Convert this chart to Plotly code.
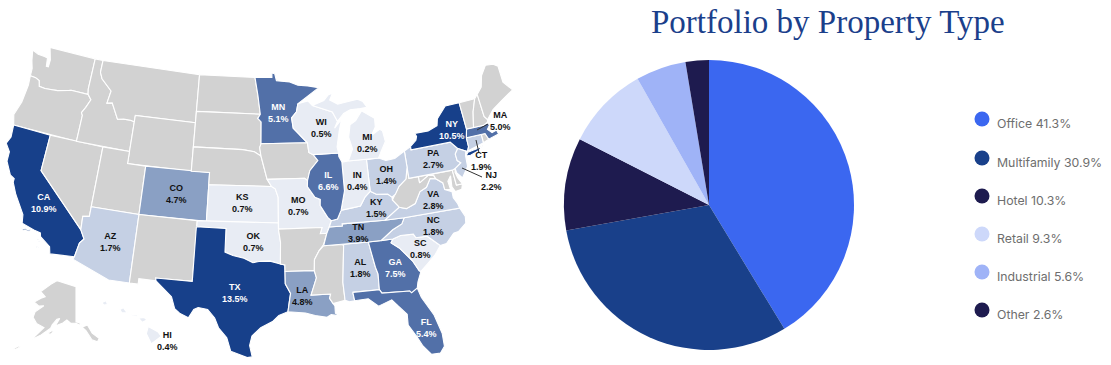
import math
import plotly.graph_objects as go

# ---------- data ----------
property_types = ["Office", "Multifamily", "Hotel", "Retail", "Industrial", "Other"]
property_shares = [41.3, 30.9, 10.3, 9.3, 5.6, 2.6]
property_colors = ["#3B67F0", "#19408A", "#1E1B4F", "#CDD8FA", "#9FB3F7", "#1E1B4F"]

state_codes = ["CA", "TX", "NY", "IL", "GA", "FL", "MN", "MA", "LA", "CO", "TN", "VA", "PA", "NJ", "CT",
               "NC", "AL", "AZ", "KY", "OH", "SC", "KS", "MO", "OK", "WI", "IN", "HI", "MI"]
state_shares = [10.9, 13.5, 10.5, 6.6, 7.5, 5.4, 5.1, 5.0, 4.8, 4.7, 3.9, 2.8, 2.7, 2.2, 1.9,
                1.8, 1.8, 1.7, 1.5, 1.4, 0.8, 0.7, 0.7, 0.7, 0.5, 0.4, 0.4, 0.2]

# State outlines, (longitude, latitude)
CONUS = {
 "WA": [[(-124.7,48.38),(-123.9,48.17),(-123.1,48.15),(-122.7,48.1),(-122.55,47.4),(-122.3,47.4),(-122.3,48.0),(-122.5,48.5),(-122.76,49),(-117.03,49),(-117.04,46.42),(-116.92,45.99),(-118.98,46),(-119.3,45.93),(-120.5,45.7),(-121.2,45.65),(-122.0,45.6),(-122.7,45.65),(-122.9,46.1),(-123.4,46.25),(-124.05,46.27),(-124.1,46.9),(-124.4,47.5)]],
 "OR": [[(-124.05,46.27),(-123.4,46.25),(-122.9,46.1),(-122.7,45.65),(-122,45.6),(-121.2,45.65),(-120.5,45.7),(-119.3,45.93),(-118.98,46),(-116.92,45.99),(-116.46,45.6),(-116.85,44.9),(-117.2,44.4),(-117.03,44.2),(-117.03,42),(-124.21,42),(-124.55,42.84),(-124.1,44),(-123.95,45.5)]],
 "CA": [[(-124.21,42),(-120,42),(-120,39),(-114.63,35),(-114.13,34.3),(-114.5,33.9),(-114.72,32.72),(-117.12,32.53),(-117.3,33.1),(-118.4,33.75),(-118.5,34.03),(-119.2,34.15),(-120.5,34.45),(-120.65,35.15),(-121.9,36.6),(-122.5,37.5),(-122.5,37.8),(-123,38),(-123.75,39),(-123.8,39.8),(-124.4,40.4),(-124.1,41)],
        [(-120.4,34.05),(-119.5,34.07),(-119.6,33.95),(-120.3,33.92)],[(-118.6,33.45),(-118.35,33.4),(-118.45,33.3)],[(-118.6,33.0),(-118.35,32.8),(-118.5,32.8)]],
 "NV": [[(-120,42),(-114.04,42),(-114.04,36.2),(-114.7,36.1),(-114.63,35),(-120,39)]],
 "ID": [[(-117.03,49),(-116.05,49),(-116.05,48),(-115.7,47.5),(-114.9,47),(-114.35,46.65),(-114.55,45.6),(-113.95,45.7),(-113.45,45.05),(-113,44.45),(-112.3,44.55),(-111.5,44.55),(-111.05,44.48),(-111.05,42),(-117.03,42),(-117.03,44.2),(-117.2,44.4),(-116.85,44.9),(-116.46,45.6),(-116.92,45.99),(-117.04,46.42)]],
 "MT": [[(-116.05,49),(-104.05,49),(-104.05,45),(-111.05,45),(-111.05,44.48),(-111.5,44.55),(-112.3,44.55),(-113,44.45),(-113.45,45.05),(-113.95,45.7),(-114.55,45.6),(-114.35,46.65),(-114.9,47),(-115.7,47.5),(-116.05,48)]],
 "WY": [[(-111.05,45),(-104.05,45),(-104.05,41),(-111.05,41)]],
 "UT": [[(-114.04,42),(-111.05,42),(-111.05,41),(-109.05,41),(-109.05,37),(-114.04,37)]],
 "CO": [[(-109.05,41),(-102.05,41),(-102.05,37),(-109.05,37)]],
 "AZ": [[(-114.04,37),(-109.05,37),(-109.05,31.33),(-111.07,31.33),(-114.82,32.5),(-114.72,32.72),(-114.5,33.9),(-114.13,34.3),(-114.63,35),(-114.7,36.1),(-114.04,36.2)]],
 "NM": [[(-109.05,37),(-103,37),(-103.04,32),(-106.6,32),(-106.53,31.78),(-108.2,31.78),(-108.2,31.33),(-109.05,31.33)]],
 "ND": [[(-104.05,49),(-97.23,49),(-96.85,47.5),(-96.55,45.94),(-104.05,45.94)]],
 "SD": [[(-104.05,45.94),(-96.55,45.94),(-96.85,45.6),(-96.45,45.3),(-96.45,43.5),(-96.6,43.2),(-96.45,42.5),(-97.2,42.85),(-98.5,43),(-104.05,43)]],
 "NE": [[(-104.05,43),(-98.5,43),(-97.2,42.85),(-96.45,42.5),(-96.1,41.5),(-95.77,40.58),(-95.3,40),(-102.05,40),(-102.05,41),(-104.05,41)]],
 "KS": [[(-102.05,40),(-95.3,40),(-94.9,39.8),(-94.6,39.1),(-94.62,37),(-102.05,37)]],
 "OK": [[(-103,37),(-94.62,37),(-94.62,36.5),(-94.43,35.4),(-94.48,33.64),(-95.5,33.88),(-96.6,33.85),(-97.2,33.75),(-98.1,34.1),(-99.2,34.3),(-100,34.56),(-100,36.5),(-103,36.5)]],
 "TX": [[(-103.04,36.5),(-100,36.5),(-100,34.56),(-99.2,34.3),(-98.1,34.1),(-97.2,33.75),(-96.6,33.85),(-95.5,33.88),(-94.48,33.64),(-94.04,33.55),(-94.04,32),(-93.55,31.2),(-93.7,30.5),(-93.84,29.7),(-94.7,29.4),(-95.3,28.9),(-96.4,28.4),(-97.2,27.7),(-97.4,26.9),(-97.15,25.96),(-97.6,25.9),(-99.1,26.4),(-99.5,27.5),(-100.3,28.3),(-100.7,29.1),(-101.4,29.77),(-102.3,29.88),(-102.7,29.7),(-103.15,28.98),(-104,29.3),(-104.5,29.65),(-104.9,30.6),(-106.53,31.78),(-106.6,32),(-103.04,32)]],
 "MN": [[(-97.23,49),(-95.15,49),(-95.15,49.38),(-94.8,49.3),(-94.6,48.72),(-93,48.6),(-92,48.3),(-90.8,48.2),(-89.5,48),(-92.1,46.75),(-92.3,46.1),(-92.9,45.6),(-92.75,44.75),(-91.2,43.5),(-96.45,43.5),(-96.45,45.3),(-96.85,45.6),(-96.55,45.94),(-96.85,47.5)]],
 "IA": [[(-96.45,43.5),(-91.2,43.5),(-91.1,42.7),(-90.64,42.5),(-90.15,42),(-91.1,41.2),(-91.4,40.4),(-91.7,40.6),(-95.77,40.58),(-96.1,41.5),(-96.45,42.5),(-96.6,43.2)]],
 "MO": [[(-95.77,40.58),(-91.7,40.6),(-91.4,40.4),(-91.45,39.9),(-90.7,39),(-90.15,38.8),(-90.2,38.3),(-89.5,37.3),(-89.15,37),(-89.4,36.5),(-89.7,36),(-90.37,36),(-90.15,36.5),(-94.62,36.5),(-94.62,37),(-94.6,39.1),(-94.9,39.8),(-95.3,40)]],
 "AR": [[(-94.62,36.5),(-90.15,36.5),(-90.37,36),(-89.7,36),(-90.1,35.1),(-90.6,34.6),(-91.1,33.9),(-91.17,33),(-94.04,33.02),(-94.04,33.55),(-94.48,33.64),(-94.43,35.4)]],
 "LA": [[(-94.04,33.02),(-91.17,33),(-91.0,32.4),(-91.6,31.0),(-89.73,31),(-89.85,30.65),(-89.55,30.2),(-89.4,30),(-89.4,29.4),(-89,29.15),(-89.8,29.3),(-90.2,29.1),(-91.3,29.3),(-92.2,29.55),(-93.84,29.7),(-93.7,30.5),(-93.55,31.2),(-94.04,32)]],
 "MS": [[(-91.17,33),(-91.1,33.9),(-90.6,34.6),(-90.1,35),(-88.2,35),(-88.1,34.9),(-88.47,31.9),(-88.4,30.4),(-89.55,30.2),(-89.85,30.65),(-89.73,31),(-91.6,31),(-91,32.4)]],
 "AL": [[(-88.2,35),(-85.6,35),(-85.18,32.87),(-85,32.3),(-85.05,31.0),(-87.6,31),(-87.5,30.3),(-88.0,30.25),(-88.4,30.4),(-88.47,31.9),(-88.1,34.9)]],
 "GA": [[(-85.6,35),(-83.1,35),(-83.35,34.7),(-82.6,34.2),(-81.5,33),(-81,32.1),(-80.85,32.03),(-81.3,31.2),(-81.45,30.72),(-82.05,30.4),(-82.2,30.57),(-84.85,30.7),(-85.05,31),(-85,32.3),(-85.18,32.87)]],
 "FL": [[(-87.6,31),(-85.05,31),(-84.85,30.7),(-82.2,30.57),(-82.05,30.4),(-81.45,30.72),(-81.2,29.9),(-80.3,28.3),(-79.85,26.7),(-79.85,25.6),(-80.3,25.1),(-81.1,25.1),(-81.75,25.9),(-82.15,26.7),(-82.8,27.8),(-82.75,28.7),(-83.5,29.5),(-84,30.05),(-85.3,29.65),(-86.2,30.35),(-87.5,30.3)]],
 "SC": [[(-83.35,34.7),(-83.1,35),(-82.3,35.2),(-81,35.15),(-80.8,34.82),(-79.67,34.8),(-78.55,33.86),(-79.2,33.2),(-79.9,32.7),(-80.85,32.03),(-81,32.1),(-81.5,33),(-82.6,34.2)]],
 "NC": [[(-84.32,34.99),(-83.1,35),(-82.3,35.2),(-81,35.15),(-80.8,34.82),(-79.67,34.8),(-78.55,33.86),(-77.9,33.93),(-77,34.65),(-76.5,34.7),(-75.6,35.25),(-75.5,35.8),(-75.87,36.55),(-81.67,36.59),(-82.0,36.12),(-83,35.75)]],
 "TN": [[(-90.1,35),(-88.2,35),(-85.6,35),(-84.32,34.99),(-83,35.75),(-82,36.12),(-81.67,36.59),(-83.67,36.6),(-88.07,36.68),(-88.07,36.5),(-89.4,36.5),(-89.7,36)]],
 "KY": [[(-89.4,36.5),(-88.07,36.5),(-88.07,36.68),(-83.67,36.6),(-82,37.5),(-82.6,38.17),(-82.6,38.4),(-83.0,38.7),(-84.2,38.8),(-84.8,39.1),(-85.4,38.7),(-86,38),(-87,37.9),(-88.05,37.8),(-88.5,37.1),(-89.15,37)]],
 "VA": [[(-83.67,36.6),(-81.67,36.59),(-75.87,36.55),(-76,37),(-76.3,37.5),(-76.3,38),(-77,38.3),(-77.05,38.85),(-77.7,39.3),(-78.3,39.4),(-78.85,38.75),(-79.6,38.5),(-80.3,37.6),(-81.3,37.3),(-82,37.5)]],
 "WV": [[(-82,37.5),(-81.3,37.3),(-80.3,37.6),(-79.6,38.5),(-78.85,38.75),(-78.3,39.4),(-77.7,39.3),(-77.85,39.6),(-78.4,39.7),(-79.48,39.2),(-79.48,39.72),(-80.52,39.72),(-80.52,40.64),(-80.85,39.7),(-81.7,39.2),(-82.2,38.6),(-82.6,38.17)]],
 "MD": [[(-79.48,39.72),(-75.79,39.72),(-75.7,38.46),(-75.05,38.45),(-75.25,38.03),(-75.95,37.95),(-76.2,38.4),(-76.1,39.3),(-76.5,38.9),(-76.4,38.2),(-77,38.3),(-77.05,38.85),(-77.7,39.3),(-77.85,39.6),(-78.4,39.7),(-79.48,39.2)]],
 "DE": [[(-75.79,39.72),(-75.45,39.8),(-75.55,39.5),(-75.4,39),(-75.05,38.45),(-75.7,38.46)]],
 "PA": [[(-80.52,41.98),(-79.76,42.27),(-79.76,42),(-75.35,42),(-74.7,41.36),(-75.1,40.95),(-75.05,40.4),(-74.72,40.15),(-75.45,39.8),(-75.79,39.72),(-80.52,39.72)]],
 "OH": [[(-84.8,41.7),(-83.45,41.73),(-82.7,41.45),(-81.7,41.5),(-80.52,41.98),(-80.52,40.64),(-80.85,39.7),(-81.7,39.2),(-82.2,38.6),(-82.6,38.4),(-83,38.7),(-84.2,38.8),(-84.8,39.1)]],
 "IN": [[(-87.52,41.72),(-87.2,41.75),(-86.8,41.76),(-84.8,41.76),(-84.8,39.1),(-85.4,38.7),(-86,38),(-87,37.9),(-88.05,37.8),(-87.52,39.35)]],
 "IL": [[(-87.8,42.49),(-90.64,42.5),(-90.15,42),(-91.1,41.2),(-91.4,40.4),(-91.45,39.9),(-90.7,39),(-90.15,38.8),(-90.2,38.3),(-89.5,37.3),(-89.15,37),(-88.5,37.1),(-88.05,37.8),(-87.52,39.35),(-87.52,41.72),(-87.8,42.2)]],
 "WI": [[(-92.1,46.75),(-90.9,46.95),(-90.4,46.55),(-89,46.15),(-88.1,45.9),(-87.6,45.1),(-88,44.55),(-87.1,45.25),(-87.5,44.3),(-87.9,43),(-87.8,42.49),(-90.64,42.5),(-91.1,42.7),(-91.2,43.5),(-92.75,44.75),(-92.9,45.6),(-92.3,46.1)]],
 "MI": [[(-86.8,41.76),(-84.8,41.76),(-83.45,41.73),(-83.1,42.2),(-82.45,43),(-82.6,43.9),(-82.9,44.05),(-83.9,43.65),(-83.35,44.3),(-83.3,45),(-84.7,45.75),(-85.5,45),(-86.2,44.7),(-86.5,43.7),(-86.2,42.7)],
        [(-90.4,46.55),(-89,46.9),(-88.4,47.35),(-87.9,47.45),(-88.3,46.9),(-87.4,46.5),(-86,46.65),(-85,46.75),(-84.4,46.5),(-84,46),(-84.8,45.95),(-86,45.95),(-86.8,45.7),(-87.6,45.1),(-88.1,45.9),(-89,46.15)]],
 "NY": [[(-79.76,42.27),(-79.05,42.7),(-78.9,43),(-79.05,43.27),(-77.5,43.27),(-76.4,43.55),(-76.2,44.1),(-75,45),(-73.35,45),(-73.3,43.6),(-73.25,42.75),(-73.5,42.05),(-73.5,41.3),(-73.7,40.98),(-73.9,41),(-74.7,41.36),(-75.35,42),(-79.76,42)],
        [(-74,40.6),(-73.7,40.88),(-72.6,40.98),(-72,41.1),(-72.5,40.8),(-73.5,40.58)]],
 "NJ": [[(-74.7,41.36),(-73.9,41),(-74.05,40.65),(-74.1,39.75),(-74.9,38.93),(-75.4,39.45),(-75.45,39.8),(-74.72,40.15),(-75.05,40.4),(-75.1,40.95)]],
 "CT": [[(-73.5,42.05),(-71.8,42.02),(-71.8,41.32),(-73.7,40.98),(-73.5,41.3)]],
 "RI": [[(-71.8,42.02),(-71.38,42.02),(-71.15,41.5),(-71.8,41.32)]],
 "MA": [[(-73.5,42.05),(-73.25,42.75),(-71.3,42.7),(-70.8,42.87),(-70.65,42.6),(-71,42.3),(-70.6,41.95),(-70.05,42.05),(-69.95,41.7),(-70.65,41.55),(-71.15,41.5),(-71.38,42.02)]],
 "VT": [[(-73.35,45),(-71.5,45),(-72.05,44),(-72.45,42.73),(-73.25,42.75),(-73.3,43.6)]],
 "NH": [[(-71.5,45),(-71.08,45.3),(-70.98,43.4),(-70.7,43.07),(-70.8,42.87),(-71.3,42.7),(-72.45,42.73),(-72.05,44)]],
 "ME": [[(-71.08,45.3),(-70.4,45.8),(-70.0,46.7),(-69.2,47.45),(-68.3,47.35),(-67.8,47.07),(-67.8,45.7),(-67,44.85),(-68.5,44.3),(-69.8,43.75),(-70.7,43.07),(-70.98,43.4)]],
}
ALASKA = [[(-141,69.65),(-148,70.4),(-156.6,71.3),(-161,70.3),(-166.5,68.4),(-162,67),(-164.5,66.6),(-168,65.6),(-164,64.5),(-161,64.6),(-165,63),(-165,61.5),(-162,59.9),(-157.5,58.8),(-162,55.6),(-165,54.6),(-158,56.8),(-154,58.6),(-153.5,59.5),(-151.5,61),(-150,61.2),(-151.8,59.2),(-148,60),(-146,60.8),(-144,60),(-141,59.9),(-139,59.5),(-136,58),(-133.5,55.5),(-131,55),(-130,55.9),(-133,57.3),(-135,59.5),(-137.5,59),(-139.2,60.1),(-141,60.3)],
          [(-154.7,57.4),(-153,58),(-152.3,57.6),(-153.8,56.9)],[(-169,53),(-167,53.9),(-166,53.7),(-168,52.9)]]
HAWAII = [[(-155.9,20.25),(-155.1,19.85),(-154.8,19.5),(-155.65,18.92),(-156.05,19.7)],
          [(-156.7,20.9),(-156.25,20.95),(-156,20.75),(-156.4,20.58)],
          [(-157.3,21.2),(-156.7,21.17),(-156.85,21.05),(-157.3,21.1)],
          [(-158.27,21.57),(-157.97,21.7),(-157.65,21.3),(-158.1,21.3)],
          [(-159.75,22.1),(-159.4,22.23),(-159.3,21.95),(-159.6,21.9)]]

# label placement on the page (px) — layout, not data
LABEL_PX = {"CA":(44,203),"CO":(176,194),"KS":(242,203),"AZ":(110,242),"OK":(253,242),"TX":(235,293),"HI":(167,341),
            "MN":(278,113),"WI":(321,128),"MI":(367,143),"NY":(452,130),"MA":(500,121),"CT":(481,161),"NJ":(491,181),
            "PA":(433,159),"IL":(328,181),"IN":(357,181),"OH":(386,175),"VA":(433,200),"MO":(298,206),"KY":(376,208),
            "TN":(358,233),"NC":(433,226),"SC":(420,249),"AL":(360,268),"GA":(395,268),"LA":(302,296),"FL":(426,328)}
LEADERS = [((477,130),(488,124)), ((476,140),(479,153)), ((462,168),(482,177))]
WHITE_TEXT = {"CA","TX","NY","IL","GA","FL","MN"}
GRAY = "#D2D2D2"


def share_color(v):
    if v is None: return GRAY
    if v >= 10: return "#17408A"
    if v >= 5: return "#5270A8"
    if v >= 3: return "#8AA0C4"
    if v >= 1: return "#C5D0E4"
    return "#E8ECF4"

# Albers equal-area conic
N = (math.sin(math.radians(29.5)) + math.sin(math.radians(45.5))) / 2
C = math.cos(math.radians(29.5))**2 + 2*N*math.sin(math.radians(29.5))
RHO0 = math.sqrt(C - 2*N*math.sin(math.radians(37.5))) / N

def albers(lon, lat):
    rho = math.sqrt(C - 2*N*math.sin(math.radians(lat))) / N
    th = math.radians(N*(lon + 96))
    return 265 + 702*rho*math.sin(th), 217 - 693*(RHO0 - rho*math.cos(th))

def alaska(lon, lat):
    return 76 + 3.75*(lon + 141)*math.cos(math.radians(lat)), 323 - 3.75*(lat - 60)

def hawaii(lon, lat):
    return 153 + 12*(lon + 155.5), 335 - 13*(lat - 19.6)

fig = go.Figure()
share_by_code = dict(zip(state_codes, state_shares))

def add_shape(code, rings, proj):
    xs, ys = [], []
    for ring in rings:
        pts = [proj(*p) for p in ring] + [proj(*ring[0])]
        xs += [p[0] for p in pts] + [None]
        ys += [p[1] for p in pts] + [None]
    v = share_by_code.get(code)
    fig.add_trace(go.Scatter(x=xs, y=ys, mode="lines", fill="toself", fillcolor=share_color(v),
                             line=dict(color="white", width=1.1), name=code, showlegend=False,
                             hoverinfo="name"))

for code, rings in CONUS.items():
    add_shape(code, rings, albers)
add_shape("AK", ALASKA, alaska)
add_shape("HI", HAWAII, hawaii)

for a, b in LEADERS:
    fig.add_trace(go.Scatter(x=[a[0], b[0]], y=[a[1], b[1]], mode="lines", showlegend=False,
                             line=dict(color="#333333", width=1), hoverinfo="skip"))

for code, v in zip(state_codes, state_shares):
    px, py = LABEL_PX[code]
    fig.add_annotation(x=px, y=py, xref="x", yref="y", text=f"<b>{code}<br>{v}%</b>", showarrow=False,
                       align="center", font=dict(family="Liberation Sans", size=9,
                                                 color="white" if code in WHITE_TEXT else "#111111"))

fig.add_trace(go.Pie(labels=property_types, values=property_shares, sort=False, direction="clockwise", rotation=0,
                     marker=dict(colors=property_colors, line=dict(width=0)), textinfo="none",
                     domain=dict(x=[564/1111, 854/1111], y=[1-350/365, 1-60/365]), showlegend=False))

# custom legend
legend_y = [119, 158, 196, 234, 272, 310]
fig.add_trace(go.Scatter(x=[982]*6, y=legend_y, mode="markers", showlegend=False, hoverinfo="skip",
                         marker=dict(size=15, color=property_colors, line=dict(width=0))))
for name, v, y in zip(property_types, property_shares, legend_y):
    fig.add_annotation(x=995, y=y+4, xref="x", yref="y", text=f"{name} {v}%", showarrow=False, xanchor="left",
                       font=dict(family="Inter", size=12.3, color="#6E6E6E"))

fig.add_annotation(x=828, y=22, xref="x", yref="y", text="Portfolio by Property Type", showarrow=False,
                   font=dict(family="Liberation Serif", size=33, color="#1B3F8B"))

fig.update_xaxes(range=[0, 1111], visible=False, domain=[0, 1])
fig.update_yaxes(range=[365, 0], visible=False, domain=[0, 1])
fig.update_layout(width=1111, height=365, margin=dict(l=0, r=0, t=0, b=0), paper_bgcolor="white",
                  plot_bgcolor="white", autosize=False)
fig.write_html("out.html", config={"displayModeBar": False},
               post_script="document.body.style.margin='0';document.body.style.overflow='hidden';")
